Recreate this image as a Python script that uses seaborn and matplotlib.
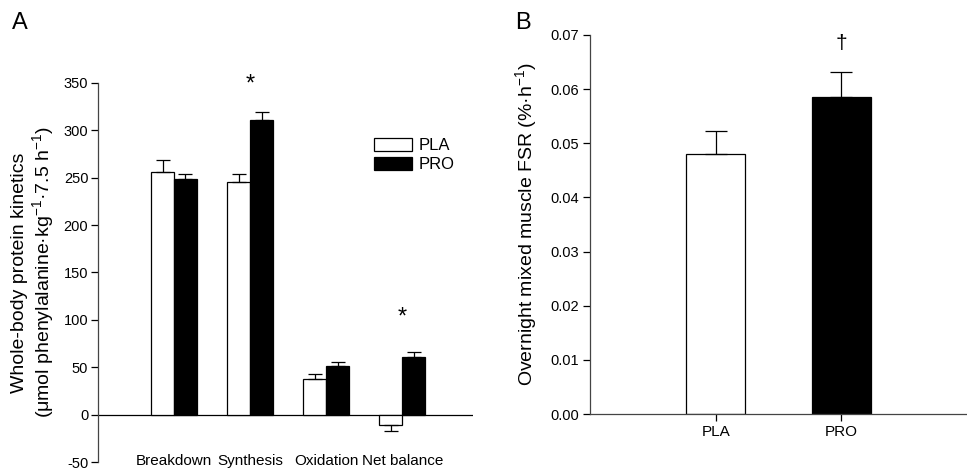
import pandas as pd
import seaborn as sns
import matplotlib.pyplot as plt
from matplotlib.patches import Patch

sns.set_style('ticks', rc={'text.color': 'black', 'axes.labelcolor': 'black',
                           'xtick.color': 'black', 'ytick.color': 'black',
                           'axes.edgecolor': 'black'})
plt.rcParams['font.family'] = ['Liberation Sans', 'DejaVu Sans']
plt.rcParams['axes.unicode_minus'] = False
plt.rcParams['mathtext.fontset'] = 'custom'
plt.rcParams['mathtext.rm'] = 'Liberation Sans'

# Panel A data: whole-body protein kinetics (mean and SEM)
categories = ['Breakdown', 'Synthesis', 'Oxidation', 'Net balance']
groups = ['PLA', 'PRO']
pla_values = [256, 246, 38, -11]
pro_values = [249, 311, 51, 61]
pla_sem = [13, 8, 5, 6]
pro_sem = [5, 8, 5, 5]
sig_marks_a = {'Synthesis': 348, 'Net balance': 103}

# Panel B data: overnight mixed muscle FSR
fsr_groups = ['PLA', 'PRO']
fsr_values = [0.048, 0.0585]
fsr_sem = [0.0042, 0.0047]

palette = {'PLA': 'white', 'PRO': 'black'}

df_a = pd.DataFrame({
    'category': categories * 2,
    'group': ['PLA'] * len(categories) + ['PRO'] * len(categories),
    'value': pla_values + pro_values,
})
df_b = pd.DataFrame({'group': fsr_groups, 'value': fsr_values})

fig = plt.figure(figsize=(9.67, 4.69), dpi=100)
ax1 = fig.add_axes([98 / 967, 1 - 462 / 469, 375 / 967, 379 / 469])
ax2 = fig.add_axes([590 / 967, 1 - 414 / 469, 377 / 967, 379 / 469])

# ---- Panel A ----
sns.barplot(data=df_a, x='category', y='value', hue='group', order=categories,
            hue_order=groups, palette=palette, edgecolor='black', linewidth=0.9,
            width=0.6, gap=0, errorbar=None, legend=False, ax=ax1)

for cont, sems in zip(ax1.containers, [pla_sem, pro_sem]):
    for bar, s in zip(cont, sems):
        xc = bar.get_x() + bar.get_width() / 2
        h = bar.get_height()
        yerr = [[0], [s]] if h >= 0 else [[s], [0]]
        ax1.errorbar(xc, h, yerr=yerr, fmt='none', ecolor='black',
                     elinewidth=0.9, capsize=5, capthick=0.9, zorder=1)

for cat, yv in sig_marks_a.items():
    ax1.text(categories.index(cat), yv, '*', ha='center', va='center',
             fontsize=17, clip_on=False)

ax1.set_xlim(-1.0, 3.93)
ax1.set_ylim(-50, 350)
ax1.set_yticks(range(-50, 351, 50))
ax1.axhline(0, color='black', lw=0.9, zorder=0)
sns.despine(ax=ax1, bottom=True)
ax1.spines['left'].set_linewidth(0.9)
ax1.spines['left'].set_color('#444444')
ax1.tick_params(axis='y', direction='out', length=5, width=0.9, labelsize=10.5, pad=2)
ax1.tick_params(axis='x', length=0, labelsize=11, pad=-6)
ax1.set_xlabel('')
ax1.set_ylabel('Whole-body protein kinetics\n'
               r'($\mathrm{\mu}$mol phenylalanine·kg$^{-1}$·7.5 h$^{-1}$)',
               fontsize=14, labelpad=5, linespacing=1.1)

handles = [Patch(facecolor=palette[g], edgecolor='black', linewidth=0.9) for g in groups]
ax1.legend(handles, groups, loc='upper left', bbox_to_anchor=(0.735, 0.855),
           frameon=False, fontsize=12, handlelength=2.3, handleheight=0.85,
           labelspacing=0.2, handletextpad=0.4, borderaxespad=0, borderpad=0)

# ---- Panel B ----
sns.barplot(data=df_b, x='group', y='value', hue='group', order=fsr_groups,
            palette=palette, edgecolor='black', linewidth=0.9, width=0.47,
            errorbar=None, legend=False, ax=ax2)

for bar in ax2.patches:
    xc = bar.get_x() + bar.get_width() / 2
    s = fsr_sem[int(round(xc))]
    ax2.errorbar(xc, bar.get_height(), yerr=[[0], [s]], fmt='none',
                 ecolor='black', elinewidth=0.9, capsize=8, capthick=0.9,
                 zorder=1)

ax2.text(1, 0.0685, '†', ha='center', va='center', fontsize=15, clip_on=False)

ax2.set_xlim(-1.0, 2.0)
ax2.set_ylim(0, 0.07)
ax2.set_yticks([i / 100 for i in range(8)])
ax2.yaxis.set_major_formatter(plt.FormatStrFormatter('%.2f'))
sns.despine(ax=ax2)
for sp in ['left', 'bottom']:
    ax2.spines[sp].set_linewidth(0.9)
    ax2.spines[sp].set_color('#444444')
ax2.tick_params(axis='both', direction='out', length=5, width=0.9, labelsize=10.5, pad=3)
ax2.tick_params(axis='x', labelsize=11)
ax2.set_xlabel('')
ax2.set_ylabel(r'Overnight mixed muscle FSR (%·h$^{-1}$)', fontsize=14, labelpad=7)

fig.text(12 / 967, 1 - 29 / 469, 'A', fontsize=17, ha='left', va='baseline')
fig.text(515 / 967, 1 - 29 / 469, 'B', fontsize=17, ha='left', va='baseline')

fig.savefig('out.png', dpi=100)
